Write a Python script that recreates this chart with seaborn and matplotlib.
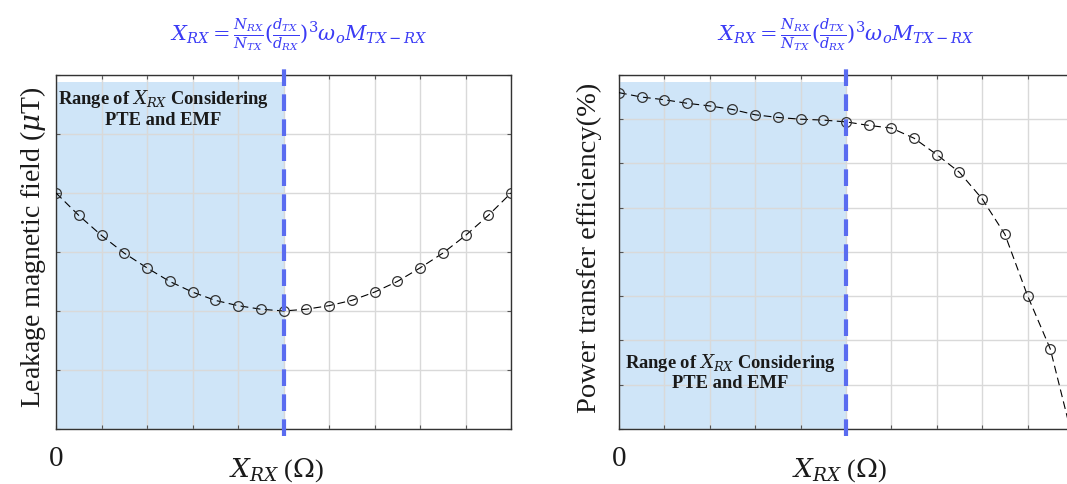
import numpy as np
import pandas as pd
import matplotlib
matplotlib.use("Agg")
import matplotlib.pyplot as plt
import seaborn as sns

# ---- data ----
x_pos = [0, 0.5, 1, 1.5, 2, 2.5, 3, 3.5, 4, 4.5, 5, 5.5, 6, 6.5, 7, 7.5, 8, 8.5, 9, 9.5, 10]
leak_field = [4.00, 3.62, 3.28, 2.98, 2.73, 2.50, 2.32, 2.18, 2.09, 2.03, 2.00,
              2.03, 2.09, 2.18, 2.32, 2.50, 2.73, 2.98, 3.28, 3.62, 4.00]
pte = [7.60, 7.50, 7.44, 7.36, 7.30, 7.22, 7.10, 7.04, 7.00, 6.98, 6.94,
       6.86, 6.80, 6.57, 6.20, 5.80, 5.20, 4.40, 3.01, 1.81, -0.25]
range_end = 5
formula = r'$X_{RX} = \frac{N_{RX}}{N_{TX}}(\frac{d_{TX}}{d_{RX}})^3\omega_o M_{TX-RX}$'
range_text = 'Range of $X_{RX}$ Considering\nPTE and EMF'
xlabel = r'$X_{RX}$ ($\Omega$)'
ylabels = ['Leakage magnetic field ($\\mu$T)', 'Power transfer efficiency(%)']

sns.set_theme(style="white")
plt.rcParams['font.family'] = ['Liberation Serif', 'DejaVu Serif']
plt.rcParams['mathtext.fontset'] = 'dejavuserif'

fig = plt.figure(figsize=(10.67, 4.85), dpi=100)
axL = fig.add_axes([0.0525, 0.1134, 0.4265, 0.730])
axR = fig.add_axes([0.5801, 0.1134, 0.4255, 0.730])

shade = '#cfe5f8'
dash_blue = '#5a6cf0'
formula_blue = '#3b3bf5'

def style(ax, ymax, ny):
    ax.set_xlim(0, 10)
    ax.set_ylim(0, ymax)
    ax.set_xticks(np.arange(0, 10.01, 1))
    ax.set_yticks(np.linspace(0, ymax, ny + 1))
    ax.grid(True, color='#d9d9d9', lw=1.0)
    ax.set_axisbelow(True)
    ax.tick_params(direction='in', length=3, width=0.8, color='#555555',
                   labelbottom=False, labelleft=False, top=True, right=True,
                   bottom=True, left=True)
    for s in ax.spines.values():
        s.set_color('#333333')
        s.set_linewidth(1.0)
    ax.axvspan(0, range_end, ymin=0, ymax=0.98, color=shade, zorder=0.5, lw=0)
    ax.axvline(range_end, ymin=-0.02, ymax=1.025, color=dash_blue, lw=3,
               dashes=(4, 2), clip_on=False, zorder=5)

for ax, y, ymax, ny in [(axL, leak_field, 6, 6), (axR, pte, 8, 8)]:
    style(ax, ymax, ny)
    df = pd.DataFrame({'x': x_pos, 'y': y})
    sns.lineplot(data=df, x='x', y='y', ax=ax, color='black', lw=0.8,
                 linestyle=(0, (7, 4)), marker='o', markersize=7,
                 markerfacecolor='none', markeredgecolor='#333333',
                 markeredgewidth=0.9, zorder=4)
    ax.set_xlabel('')
    ax.set_ylabel('')
    ax.set_xlim(0, 10)
    ax.set_ylim(0, ymax)

W, H = 1067, 485
def fx(px):
    return px / W
def fy(py):
    return 1 - py / H

# axis labels as figure text
fig.text(fx(33), fy(247), ylabels[0], rotation=90, ha='center', va='center',
         fontsize=20, color='#1a1a1a')
fig.text(fx(589), fy(248), ylabels[1], rotation=90, ha='center', va='center',
         fontsize=20.5, color='#1a1a1a')
fig.text(fx(277), fy(470), xlabel, ha='center', va='center', fontsize=19,
         color='#1a1a1a')
fig.text(fx(840), fy(470), xlabel, ha='center', va='center', fontsize=19,
         color='#1a1a1a')

for ax, fxpos in ((axL, range_end + 0.33), (axR, range_end)):
    ax.text(0, -0.045, '0', transform=ax.transAxes, ha='center', va='top',
            fontsize=21, color='#1a1a1a')
    ax.text(fxpos, 1.115, formula, transform=ax.get_xaxis_transform(),
            ha='center', va='center', fontsize=15, color=formula_blue)

axL.text(2.35, 0.965, range_text, transform=axL.get_xaxis_transform(),
         ha='center', va='top', fontsize=13.3, fontweight='bold', linespacing=1.1,
         color='#1a1a1a')
axR.text(2.45, 0.22, range_text, transform=axR.get_xaxis_transform(),
         ha='center', va='top', fontsize=13.3, fontweight='bold', linespacing=1.1,
         color='#1a1a1a')

fig.savefig('out.png', dpi=100)
